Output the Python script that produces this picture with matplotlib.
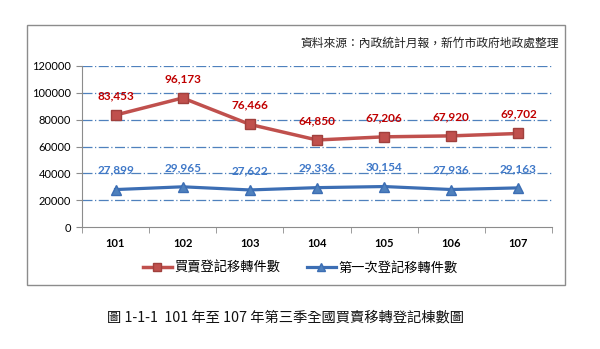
import matplotlib
matplotlib.use("Agg")
import matplotlib.pyplot as plt
from matplotlib.patches import Rectangle

years = ["101", "102", "103", "104", "105", "106", "107"]
trade_counts = [83453, 96173, 76466, 64850, 67206, 67920, 69702]
first_counts = [27899, 29965, 27622, 29336, 30154, 27936, 29163]
y_ticks = [0, 20000, 40000, 60000, 80000, 100000, 120000]

RED = "#C0504D"
RED_TXT = "#C00000"
BLUE = "#4F81BD"
BLUE_TXT = "#3F78C8"
CJK = ["Noto Sans CJK TC", "DejaVu Sans"]
NUM = ["Lato", "DejaVu Sans"]

fig = plt.figure(figsize=(6.0, 3.49), dpi=100)
ax = fig.add_axes([82 / 600, 1 - 227 / 349, 470 / 600, 161 / 349])

# outer chart frame
fig.patches.append(Rectangle((27 / 600, 1 - 285 / 349), 538 / 600, 260 / 349,
                             transform=fig.transFigure, fill=False,
                             edgecolor="#8C8C8C", linewidth=1.0))

x = list(range(len(years)))
ax.plot(x, trade_counts, color=RED, linewidth=2.5, marker="s", markersize=7.5,
        markerfacecolor=RED, markeredgecolor="#A0403D", label="買賣登記移轉件數", zorder=3)
ax.plot(x, first_counts, color="#3C6EB4", linewidth=2.3, marker="^", markersize=7.5,
        markerfacecolor=BLUE, markeredgecolor="#3C6EB4", label="第一次登記移轉件數", zorder=3)

for xi, v in zip(x, trade_counts):
    ax.annotate(f"{v:,}", (xi, v), xytext=(0, 10), textcoords="offset points",
                ha="center", va="bottom", color=RED_TXT, fontsize=8.5,
                fontweight="bold", family=NUM)
for xi, v in zip(x, first_counts):
    ax.annotate(f"{v:,}", (xi, v), xytext=(0, 10), textcoords="offset points",
                ha="center", va="bottom", color=BLUE_TXT, fontsize=8.5,
                fontweight="bold", family=NUM)

ax.set_xlim(-0.5, len(years) - 0.5)
ax.set_ylim(0, 120000)
ax.set_yticks(y_ticks)
ax.set_yticklabels([str(t) for t in y_ticks], family=NUM, fontsize=8)
ax.set_xticks(x)
ax.set_xticklabels(years, family=NUM, fontsize=8, fontweight="bold")
ax.set_xticks([i - 0.5 for i in range(len(years) + 1)], minor=True)
ax.tick_params(axis="x", which="major", length=0, pad=8)
ax.tick_params(axis="x", which="minor", length=4, color="#8C8C8C")
ax.tick_params(axis="y", length=4, color="#8C8C8C", pad=4)

for t in y_ticks[1:]:
    ax.axhline(t, color=BLUE, linewidth=0.9, linestyle=(0, (8, 2, 1, 2)), zorder=1)

for side in ("top", "right"):
    ax.spines[side].set_visible(False)
for side in ("left", "bottom"):
    ax.spines[side].set_color("#8C8C8C")

fig.text(559 / 600, 1 - 43 / 349, "資料來源：內政統計月報，新竹市政府地政處整理",
         ha="right", va="center", fontsize=8.5, family=CJK, color="#222222")

fig.legend(loc="center", bbox_to_anchor=(0.5, 1 - 268 / 349), ncol=2, frameon=False,
           prop={"family": CJK, "size": 9.5}, handlelength=2.2, columnspacing=2.0,
           handletextpad=0.2, markerscale=0.8)

fig.text(107 / 600, 1 - 318 / 349, "圖 1-1-1  101 年至 107 年第三季全國買賣移轉登記棟數圖",
         ha="left", va="center", fontsize=10.3, family=CJK, color="#111111")

fig.savefig("out.png", dpi=100)
